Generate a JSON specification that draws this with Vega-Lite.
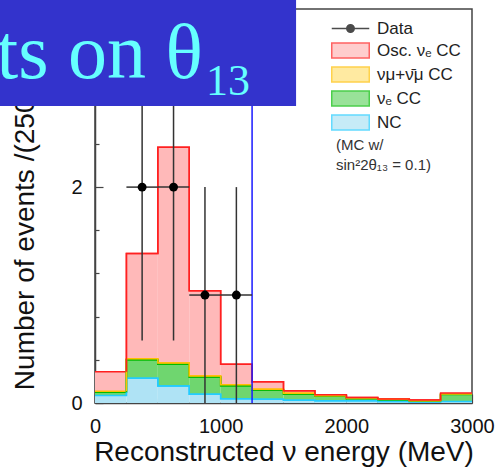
{
  "$schema": "https://vega.github.io/schema/vega-lite/v6.json",
  "width": 377,
  "height": 394,
  "autosize": {"type": "none"},
  "padding": {"left": 95, "top": 9, "right": 28, "bottom": 67},
  "background": "white",
  "config": {
    "view": {"stroke": "#444", "strokeWidth": 1.5},
    "font": "Liberation Sans",
    "axis": {
      "domainColor": "#444", "domainWidth": 1.5, "tickColor": "#444", "tickWidth": 1.2,
      "labelFont": "Liberation Sans", "labelFontSize": 20, "labelColor": "#111",
      "titleFont": "Liberation Sans", "titleFontSize": 28, "titleFontWeight": "normal", "titleColor": "#111",
      "grid": false, "labelOverlap": false, "labelFlush": false
    },
    "legend": {
      "orient": "top-right", "offset": 11, "padding": 0,
      "labelFont": "Liberation Sans", "labelFontSize": 17, "labelColor": "#222",
      "symbolSize": 225, "symbolStrokeWidth": 1.5, "symbolOffset": 6, "labelOffset": 18, "rowPadding": 3,
      "titleOrient": "bottom", "titleFont": "Liberation Sans", "titleFontSize": 15,
      "titleFontWeight": "normal", "titleColor": "#333", "titleLineHeight": 20,
      "titlePadding": 5, "titleAnchor": "start", "titleLimit": 300
    }
  },
  "datasets": {
    "hist": [
      {"lo": 0, "hi": 250, "nc": 0.07, "nue": 0.03, "numu": 0.01, "osc": 0.18},
      {"lo": 250, "hi": 500, "nc": 0.23, "nue": 0.17, "numu": 0.01, "osc": 0.976},
      {"lo": 500, "hi": 750, "nc": 0.157, "nue": 0.203, "numu": 0.01, "osc": 2.0},
      {"lo": 750, "hi": 1000, "nc": 0.08, "nue": 0.16, "numu": 0.01, "osc": 0.79},
      {"lo": 1000, "hi": 1250, "nc": 0.04, "nue": 0.12, "numu": 0.01, "osc": 0.19},
      {"lo": 1250, "hi": 1500, "nc": 0.034, "nue": 0.086, "numu": 0.007, "osc": 0.07},
      {"lo": 1500, "hi": 1750, "nc": 0.025, "nue": 0.058, "numu": 0.007, "osc": 0.024},
      {"lo": 1750, "hi": 2000, "nc": 0.02, "nue": 0.042, "numu": 0.006, "osc": 0.009},
      {"lo": 2000, "hi": 2250, "nc": 0.02, "nue": 0.022, "numu": 0.004, "osc": 0.004},
      {"lo": 2250, "hi": 2500, "nc": 0.015, "nue": 0.016, "numu": 0.003, "osc": 0.003},
      {"lo": 2500, "hi": 2750, "nc": 0.01, "nue": 0.008, "numu": 0.002, "osc": 0.008},
      {"lo": 2750, "hi": 3000, "nc": 0.015, "nue": 0.063, "numu": 0.005, "osc": 0.01}
    ],
    "obs": [
      {"E": 375, "n": 2, "lo": 0.58, "hi": 4.64, "e1": 250, "e2": 500},
      {"E": 625, "n": 2, "lo": 0.58, "hi": 4.64, "e1": 500, "e2": 750},
      {"E": 875, "n": 1, "lo": 0, "hi": 2.0, "e1": 750, "e2": 1000},
      {"E": 1125, "n": 1, "lo": 0, "hi": 2.0, "e1": 1000, "e2": 1250}
    ],
    "one": [{}]
  },
  "layer": [
    {
      "data": {"name": "hist"},
      "transform": [
        {"fold": ["nc", "nue", "numu", "osc"], "as": ["comp", "val"]},
        {"stack": "val", "groupby": ["lo"], "sort": [{"field": "comp", "order": "ascending"}], "as": ["v0", "v1"]}
      ],
      "layer": [
        {
          "mark": {"type": "bar", "strokeWidth": 0},
          "encoding": {
            "x": {"field": "lo", "type": "quantitative",
              "scale": {"domain": [0, 3000], "nice": false},
              "axis": {
                "title": "Reconstructed ν energy (MeV)",
                "values": [0, 250, 500, 750, 1000, 1250, 1500, 1750, 2000, 2250, 2500, 2750, 3000],
                "format": "d",
                "labelExpr": "datum.value % 1000 === 0 ? datum.label : ''",
                "tickSize": {"condition": {"test": "datum.value % 1000 === 0", "value": -9}, "value": -5},
                "labelPadding": 22,
                "titlePadding": -2
              }
            },
            "x2": {"field": "hi"},
            "y": {"field": "v0", "type": "quantitative",
              "scale": {"domain": [0, 3.65], "nice": false},
              "axis": {
                "title": "Number of events /(250 MeV)",
                "values": [0, 0.2, 0.4, 0.6, 0.8, 1, 1.2, 1.4, 1.6, 1.8, 2, 2.2, 2.4, 2.6, 2.8, 3, 3.2, 3.4, 3.6],
                "format": ".0f",
                "labelExpr": "datum.value % 1 === 0 ? datum.label : ''",
                "tickSize": {"condition": {"test": "datum.value % 1 === 0", "value": -8}, "value": -4},
                "labelPadding": 21,
                "titlePadding": 31
              }
            },
            "y2": {"field": "v1"},
            "fill": {"field": "comp", "type": "nominal",
              "scale": {"domain": ["data", "osc", "numu", "nue", "nc"], "range": ["#000000", "#ffb9b9", "#ffe27a", "#6fd66f", "#afe3f5"]},
              "legend": {"title": ["(MC w/", "\u00a0\u00a0sin²2θ₁₃ = 0.1)"], "labelExpr": "datum.value == 'data' ? 'Data' : datum.value == 'osc' ? 'Osc. νₑ CC' : datum.value == 'numu' ? 'νμ+ν̄μ CC' : datum.value == 'nue' ? 'νₑ CC' : 'NC'"}
            }
          }
        },
        {
          "mark": {"type": "line", "interpolate": "step-after", "strokeWidth": 1.5},
          "encoding": {
            "x": {"field": "lo", "type": "quantitative"},
            "y": {"field": "v1", "type": "quantitative"},
            "stroke": {"field": "comp", "type": "nominal",
              "scale": {"domain": ["data", "osc", "numu", "nue", "nc"], "range": ["#000000", "#ff2020", "#ffbf00", "#00bb00", "#22ccff"]},
              "legend": {"title": ["(MC w/", "\u00a0\u00a0sin²2θ₁₃ = 0.1)"], "labelExpr": "datum.value == 'data' ? 'Data' : datum.value == 'osc' ? 'Osc. νₑ CC' : datum.value == 'numu' ? 'νμ+ν̄μ CC' : datum.value == 'nue' ? 'νₑ CC' : 'NC'"}
            }
          }
        },
        {
          "mark": {"type": "line", "interpolate": "step-before", "strokeWidth": 1.5},
          "encoding": {
            "x": {"field": "hi", "type": "quantitative"},
            "y": {"field": "v1", "type": "quantitative"},
            "stroke": {"field": "comp", "type": "nominal"}
          }
        }
      ]
    },
    {
      "data": {"name": "obs"},
      "transform": [{"filter": "false"}],
      "mark": {"type": "point", "filled": true, "strokeWidth": 1.5},
      "encoding": {
        "x": {"field": "E", "type": "quantitative"},
        "y": {"field": "n", "type": "quantitative"},
        "shape": {"field": "comp", "type": "nominal",
          "scale": {"domain": ["data", "osc", "numu", "nue", "nc"], "range": ["M-2.5,0H2.5M0.5,0A0.5,0.5,0,1,1,-0.5,0A0.5,0.5,0,1,1,0.5,0Z", "M-2.5,-1H2.5V1H-2.5Z", "M-2.5,-1H2.5V1H-2.5Z", "M-2.5,-1H2.5V1H-2.5Z", "M-2.5,-1H2.5V1H-2.5Z"]},
          "legend": {"title": ["(MC w/", "\u00a0\u00a0sin²2θ₁₃ = 0.1)"], "labelExpr": "datum.value == 'data' ? 'Data' : datum.value == 'osc' ? 'Osc. νₑ CC' : datum.value == 'numu' ? 'νμ+ν̄μ CC' : datum.value == 'nue' ? 'νₑ CC' : 'NC'"}
        },
        "fill": {"field": "comp", "type": "nominal"},
        "stroke": {"field": "comp", "type": "nominal"}
      }
    },
    {
      "data": {"name": "one"},
      "mark": {"type": "rule", "color": "#1a1aff", "strokeWidth": 1.5},
      "encoding": {"x": {"datum": 1250}}
    },
    {
      "data": {"name": "obs"},
      "mark": {"type": "rule", "color": "#333", "strokeWidth": 1.5, "clip": true},
      "encoding": {
        "x": {"field": "E", "type": "quantitative"},
        "y": {"field": "lo", "type": "quantitative"},
        "y2": {"field": "hi"}
      }
    },
    {
      "data": {"name": "obs"},
      "mark": {"type": "rule", "color": "#333", "strokeWidth": 1.5},
      "encoding": {
        "x": {"field": "e1", "type": "quantitative"},
        "x2": {"field": "e2"},
        "y": {"field": "n", "type": "quantitative"}
      }
    },
    {
      "data": {"name": "obs"},
      "mark": {"type": "circle", "color": "#000", "size": 80, "opacity": 1},
      "encoding": {
        "x": {"field": "E", "type": "quantitative"},
        "y": {"field": "n", "type": "quantitative"}
      }
    },
    {
      "data": {"name": "one"},
      "mark": {"type": "rect", "color": "#3333cc", "opacity": 1},
      "encoding": {
        "x": {"datum": -800}, "x2": {"datum": 1600},
        "y": {"datum": 2.751}, "y2": {"datum": 3.85}
      }
    },
    {
      "data": {"name": "one"},
      "mark": {"type": "text", "text": "ts on θ", "font": "Liberation Serif", "fontSize": 78, "color": "#66ffff", "align": "right", "baseline": "alphabetic"},
      "encoding": {"x": {"datum": 859}, "y": {"datum": 3.011}}
    },
    {
      "data": {"name": "one"},
      "mark": {"type": "text", "text": "13", "font": "Liberation Serif", "fontSize": 44, "color": "#66ffff", "align": "left", "baseline": "alphabetic"},
      "encoding": {"x": {"datum": 883}, "y": {"datum": 2.853}}
    }
  ]
}
